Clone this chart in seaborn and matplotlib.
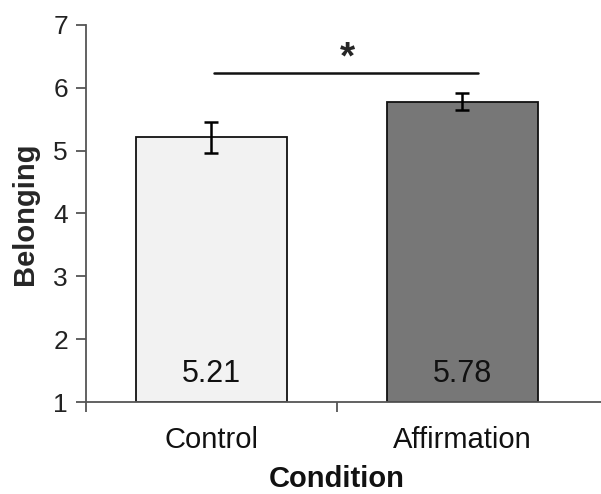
import matplotlib
matplotlib.use("Agg")
import matplotlib.pyplot as plt
import seaborn as sns
import pandas as pd

categories = ["Control", "Affirmation"]
means = [5.21, 5.78]
errors = [0.24, 0.135]
value_labels = ["5.21", "5.78"]
bar_colors = ["#f2f2f2", "#777777"]
yticks = [1, 2, 3, 4, 5, 6, 7]

sns.set_style("white")
plt.rcParams['font.family'] = ['Liberation Sans', 'DejaVu Sans']

df = pd.DataFrame({"Condition": categories, "Belonging": means})

fig = plt.figure(figsize=(6.01, 4.94), dpi=100)
ax = fig.add_axes([86/601, (494-402)/494, (601-86)/601, (402-25)/494])

sns.barplot(data=df, x="Condition", y="Belonging", hue="Condition",
            palette=bar_colors, saturation=1, width=0.6, errorbar=None,
            edgecolor="#111111", linewidth=1.3, legend=False, ax=ax)
# bars start at axis floor 1
for p, m in zip(ax.patches, means):
    p.set_y(1)
    p.set_height(m - 1)

ax.errorbar(range(len(categories)), means, yerr=errors, fmt="none",
            ecolor="black", elinewidth=1.8, capsize=5, capthick=1.8)

for i, lab in enumerate(value_labels):
    ax.text(i, 1.45, lab, ha="center", va="center", fontsize=22, color="#111111")

ax.set_ylim(1, 7)
ax.set_xlim(-0.5, 1.552)
ax.set_yticks(yticks)
ax.set_yticklabels([str(t) for t in yticks], fontsize=19, color="#222222")
ax.set_xticks([-0.5, 0.5])
ax.set_xticklabels([])
for i, c in enumerate(categories):
    ax.text(i, -0.1, c, transform=ax.get_xaxis_transform(), ha="center",
            va="center", fontsize=21, color="#111111")
ax.tick_params(axis="both", direction="out", length=7, width=1.3, color="#555555",
               left=True, bottom=True)
ax.tick_params(axis="y", pad=6)
for s in ["top", "right"]:
    ax.spines[s].set_visible(False)
for s in ["left", "bottom"]:
    ax.spines[s].set_color("#555555")
    ax.spines[s].set_linewidth(1.3)

ax.set_xlabel("")
ax.text(0.5, -(479-402)/377, "Condition", transform=ax.get_xaxis_transform(),
        ha="center", va="center", fontsize=21, fontweight="bold", color="#111111")
ax.set_ylabel("Belonging", fontsize=21, fontweight="bold", labelpad=10)

# significance bracket
ax.plot([0.01, 1.06], [6.24, 6.24], color="#111111", lw=1.8)
ax.text(0.54, 6.47, "*", ha="center", va="center", fontsize=28, fontweight="bold")

fig.savefig("out.png", dpi=100)
